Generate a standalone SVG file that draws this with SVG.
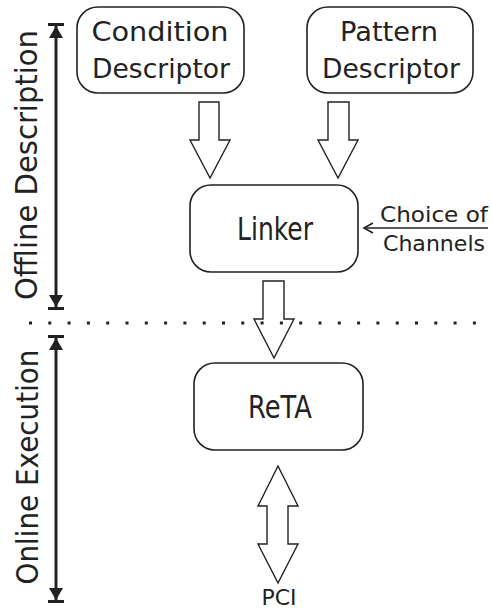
<svg xmlns="http://www.w3.org/2000/svg" width="492" height="609" viewBox="0 0 492 609">
<style>
.box{fill:#fff;stroke:#222;stroke-width:1.6}
.blk{fill:#fff;stroke:#222;stroke-width:1.4;stroke-linejoin:miter}
.t{font-family:"DejaVu Sans",sans-serif;fill:#222;text-anchor:middle}
.dim{stroke:#222;stroke-width:3;fill:none}
</style>
<defs>
<marker id="dimhead" viewBox="0 0 16 16" refX="15" refY="8" markerWidth="16" markerHeight="16" markerUnits="userSpaceOnUse" orient="auto">
<path d="M0,1 L12,8 L0,15 Z" fill="#222"/><rect x="12" y="0" width="3" height="16" fill="#222"/>
</marker>
<marker id="open" viewBox="0 0 12 12" refX="10" refY="6" markerWidth="12" markerHeight="12" markerUnits="userSpaceOnUse" orient="auto">
<path d="M1,1 L10,6 L1,11" fill="none" stroke="#222" stroke-width="1.6"/>
</marker>
</defs>
<rect width="492" height="609" fill="#fff"/>
<g id="condition">
<rect class="box" x="77" y="7" width="167" height="86" rx="21"/>
<text class="t" x="160" y="41" font-size="27" textLength="137" lengthAdjust="spacingAndGlyphs">Condition</text>
<text class="t" x="161" y="78" font-size="27" textLength="138" lengthAdjust="spacingAndGlyphs">Descriptor</text>
</g>
<g id="pattern">
<rect class="box" x="307" y="7" width="166" height="86" rx="21"/>
<text class="t" x="389" y="41" font-size="27" textLength="98" lengthAdjust="spacingAndGlyphs">Pattern</text>
<text class="t" x="391" y="78" font-size="27" textLength="138" lengthAdjust="spacingAndGlyphs">Descriptor</text>
</g>
<g id="linker">
<rect class="box" x="190" y="185" width="168" height="87" rx="21"/>
<text class="t" x="275" y="240" font-size="32" textLength="76" lengthAdjust="spacingAndGlyphs">Linker</text>
</g>
<g id="reta">
<rect class="box" x="194" y="363" width="169" height="87" rx="21"/>
<text class="t" x="280" y="418" font-size="32" textLength="64" lengthAdjust="spacingAndGlyphs">ReTA</text>
</g>
<g id="choice">
<text class="t" x="434" y="222" font-size="21" textLength="108" lengthAdjust="spacingAndGlyphs">Choice of</text>
<text class="t" x="434" y="251" font-size="21" textLength="102" lengthAdjust="spacingAndGlyphs">Channels</text>
</g>
<g id="pci">
<text class="t" x="279" y="605" font-size="21" textLength="35" lengthAdjust="spacingAndGlyphs">PCI</text>
</g>
<g id="offline-label">
<text class="t" transform="translate(37,165) rotate(-90)" font-size="31" textLength="270" lengthAdjust="spacingAndGlyphs">Offline Description</text>
</g>
<g id="online-label">
<text class="t" transform="translate(38,467) rotate(-90)" font-size="31" textLength="235" lengthAdjust="spacingAndGlyphs">Online Execution</text>
</g>
<g id="connectors">
<path class="blk" d="M199,102 H219 V140 H230 L210,178 L190,140 H199 Z"/>
<path class="blk" d="M328,102 H349 V140 H358 L338,178 L318,140 H328 Z"/>
<path class="blk" d="M263,281 H284 V319 H294 L274,358 L254,319 H263 Z"/>
<path class="blk" d="M278,466 L298,506 H288 V544 H298 L278,583 L258,544 H267 V506 H258 Z"/>
<line x1="488" y1="228" x2="364" y2="228" stroke="#222" stroke-width="1.6" marker-end="url(#open)"/>
<line x1="56" y1="166" x2="56" y2="23" class="dim" marker-end="url(#dimhead)"/>
<line x1="56" y1="166" x2="56" y2="310" class="dim" marker-end="url(#dimhead)"/>
<line x1="56" y1="470" x2="56" y2="335" class="dim" marker-end="url(#dimhead)"/>
<line x1="56" y1="470" x2="56" y2="603" class="dim" marker-end="url(#dimhead)"/>
<line x1="29" y1="323" x2="492" y2="323" stroke="#222" stroke-width="3" stroke-dasharray="3 16.3"/>
</g>
</svg>
